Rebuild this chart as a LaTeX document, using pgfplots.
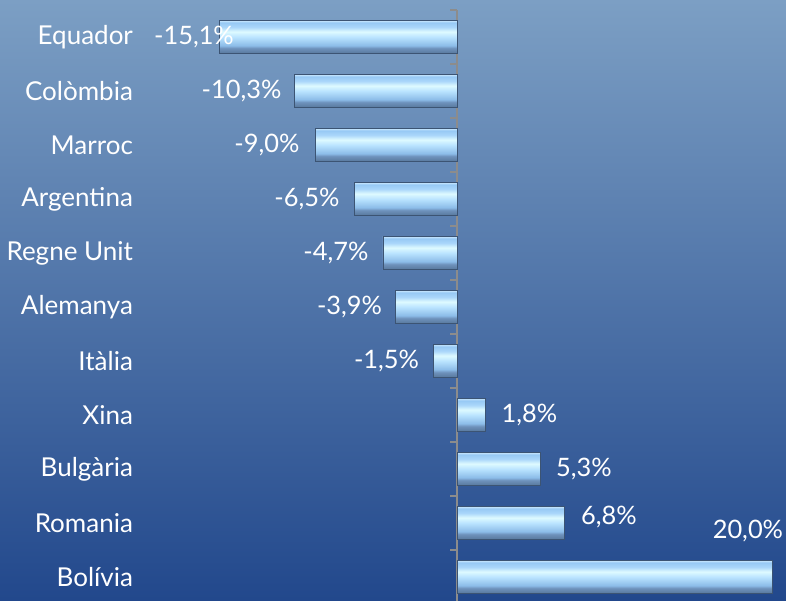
\documentclass[border=0pt]{standalone}
\usepackage{fontspec}
\setmainfont{Lato}
\usepackage{pgfplots}
\pgfplotsset{compat=1.18}
\definecolor{bgtop}{RGB}{124,159,196}
\definecolor{bgbot}{RGB}{34,72,140}
\definecolor{bA}{RGB}{150,190,228}
\definecolor{bB}{RGB}{92,124,162}
\definecolor{bC}{RGB}{110,146,188}
\definecolor{bD}{RGB}{140,188,232}
\definecolor{bE}{RGB}{186,228,255}
\definecolor{bF}{RGB}{222,250,255}
\definecolor{bG}{RGB}{170,214,250}
\definecolor{bH}{RGB}{150,200,244}
\definecolor{bI}{RGB}{190,225,252}
\definecolor{barEdge}{RGB}{60,84,115}
\definecolor{axgray}{RGB}{140,140,140}
\pgfdeclareverticalshading{barbevel}{100bp}{color(0bp)=(bA); color(25bp)=(bA); color(26.5bp)=(bB); color(33bp)=(bC); color(37bp)=(bD); color(50bp)=(bE); color(58bp)=(bF); color(65bp)=(bG); color(72bp)=(bH); color(74bp)=(bI); color(75bp)=(bI); color(100bp)=(bI)}
\pgfplotsset{barsty/.style={xbar, bar width=16.5pt, bar shift=0pt, shade, shading=barbevel, draw=barEdge, line width=0.4pt}}
\begin{document}
\begin{tikzpicture}
\useasboundingbox (0,0) rectangle (393pt,300pt);
\shade[top color=bgtop, bottom color=bgbot] (0,0) rectangle (393pt,300pt);
\begin{axis}[
  at={(70.9pt,-2pt)}, anchor=south west,
  scale only axis, width=321.5pt, height=297pt,
  xmin=-20, xmax=20.8, ymin=-0.5, ymax=10.5,
  axis x line=none,
  axis y line=center,
  y axis line style={-, draw=axgray, line width=0.8pt},
  ytick={0,...,10},
  yticklabels={Bolívia,Romania,Bulgària,Xina,Itàlia,Alemanya,Regne Unit,Argentina,Marroc,Colòmbia,Equador},
  major tick length=0pt,
  extra y ticks={-0.5,0.5,1.5,2.5,3.5,4.5,5.5,6.5,7.5,8.5,9.5,10.5},
  extra y tick labels={},
  extra y tick style={major tick length=3.5pt, tick align=outside, tick style={draw=axgray, line width=0.8pt}},
  yticklabel style={font=\fontsize{13}{15}\selectfont, text=white, anchor=east, xshift=-158.5pt},
  clip=false,
]
\addplot[barsty] coordinates {(-15.1,10)};
\addplot[barsty] coordinates {(-10.3,9)};
\addplot[barsty] coordinates {(-9.0,8)};
\addplot[barsty] coordinates {(-6.5,7)};
\addplot[barsty] coordinates {(-4.7,6)};
\addplot[barsty] coordinates {(-3.9,5)};
\addplot[barsty] coordinates {(-1.5,4)};
\addplot[barsty] coordinates {(1.8,3)};
\addplot[barsty] coordinates {(5.3,2)};
\addplot[barsty] coordinates {(6.8,1)};
\addplot[barsty] coordinates {(20.0,0)};
\addplot[only marks, mark=none, nodes near coords, nodes near coords align=center,
  point meta=explicit symbolic,
  every node near coord/.append style={font=\fontsize{12.7}{14}\selectfont, text=white, inner sep=0pt}]
 table[x=x, y=y, meta=lab] {
x y lab
-16.69 10 {-15,1\%}
-13.67 9 {-10,3\%}
-12.06 8 {-9,0\%}
-9.52 7 {-6,5\%}
-7.68 6 {-4,7\%}
-6.82 5 {-3,9\%}
-4.47 4 {-1,5\%}
4.60 3 {1,8\%}
8.06 2 {5,3\%}
9.64 1.11 {6,8\%}
18.46 0.85 {20,0\%}
};
\end{axis}
\end{tikzpicture}
\end{document}
